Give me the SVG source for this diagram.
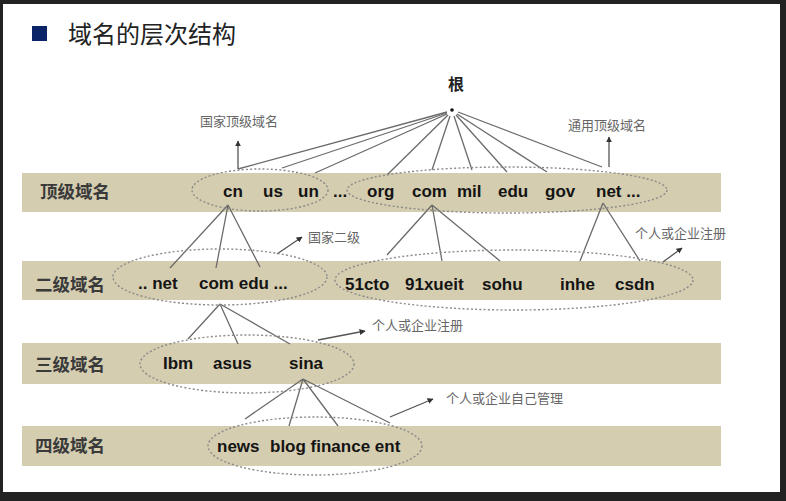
<svg xmlns="http://www.w3.org/2000/svg" width="786" height="501" viewBox="0 0 786 501">
<defs>
<style>
.band{fill:#d4cdb0}
.lvl{font-family:"Liberation Sans","Noto Sans CJK SC",sans-serif;font-size:17.5px;font-weight:bold;fill:#3a3a3a}
.dom{font-family:"Liberation Sans",Arial,sans-serif;font-size:17px;font-weight:bold;fill:#141414}
.note{font-family:"Noto Sans CJK SC",sans-serif;font-size:13px;fill:#666}
.ell{fill:none;stroke:#8a8a8a;stroke-width:1.4;stroke-dasharray:2 2.2}
.ln{stroke:#6a6a6a;stroke-width:1.3;fill:none}
.arr{stroke:#555;stroke-width:1.3;fill:none;marker-end:url(#ah)}
</style>
<marker id="ah" viewBox="0 0 10 10" refX="9" refY="5" markerWidth="6" markerHeight="6" orient="auto" markerUnits="userSpaceOnUse">
<path d="M0,0 L10,5 L0,10 z" fill="#333"/>
</marker>
</defs>
<rect x="0" y="0" width="786" height="501" fill="#222"/>
<rect x="3" y="4" width="777" height="488" fill="#fff"/>
<g id="title">
<rect x="32" y="26" width="15" height="15" fill="#0b2468"/>
<text x="68" y="43" font-family="Noto Sans CJK SC,sans-serif" font-size="24" fill="#222">域名的层次结构</text>
</g>
<g id="bands">
<rect class="band" x="22" y="173" width="699" height="39"/>
<rect class="band" x="22" y="261" width="699" height="39"/>
<rect class="band" x="22" y="343" width="699" height="41"/>
<rect class="band" x="22" y="426" width="699" height="40"/>
</g>
<g id="root">
<text x="456" y="90" text-anchor="middle" font-family="Noto Sans CJK SC,sans-serif" font-size="16" font-weight="bold" fill="#222">根</text>
<circle cx="452" cy="110" r="1.8" fill="#111"/>
</g>
<g id="connectors">
<path class="ln" d="M447,112 L238,169"/>
<path class="ln" d="M447,113 L282,168"/>
<path class="ln" d="M447,114 L315,173"/>
<path class="ln" d="M448,115 L387,175"/>
<path class="ln" d="M450,116 L432,170"/>
<path class="ln" d="M454,116 L472,170"/>
<path class="ln" d="M456,115 L507,172"/>
<path class="ln" d="M457,114 L547,172"/>
<path class="ln" d="M458,112 L602,167"/>
<path class="ln" d="M228,205 L170,268 M228,205 L216,268 M228,205 L260,267"/>
<path class="ln" d="M432,205 L387,255 M432,205 L442,261 M432,205 L500,261"/>
<path class="ln" d="M603,203 L580,261 M603,203 L640,261"/>
<path class="ln" d="M220,304 L188,339 M220,304 L238,344 M220,304 L290,344"/>
<path class="ln" d="M303,379 L245,419 M303,379 L289,426 M303,379 L338,426 M303,379 L390,423"/>
<path class="arr" d="M238,169 L238,141"/>
<path class="arr" d="M609,167 L609,137"/>
<path class="arr" d="M277,254 L302,237"/>
<path class="arr" d="M663,262 L682,248"/>
<path class="arr" d="M318,340 L365,331"/>
<path class="arr" d="M390,417 L433,399"/>
</g>
<g id="notes">
<text class="note" x="200" y="126">国家顶级域名</text>
<text class="note" x="568" y="130">通用顶级域名</text>
<text class="note" x="308" y="242">国家二级</text>
<text class="note" x="635" y="238">个人或企业注册</text>
<text class="note" x="372" y="330">个人或企业注册</text>
<text class="note" x="446" y="403">个人或企业自己管理</text>
</g>
<g id="level1">
<text class="lvl" x="40" y="198">顶级域名</text>
<ellipse class="ell" cx="260" cy="190" rx="68" ry="21"/>
<ellipse class="ell" cx="507" cy="190" rx="160" ry="23"/>
<text class="dom" x="223" y="197">cn</text>
<text class="dom" x="263" y="197">us</text>
<text class="dom" x="298" y="197">un</text>
<text class="dom" x="333" y="197">...</text>
<text class="dom" x="367" y="197">org</text>
<text class="dom" x="412" y="197">com</text>
<text class="dom" x="457" y="197">mil</text>
<text class="dom" x="498" y="197">edu</text>
<text class="dom" x="545" y="197">gov</text>
<text class="dom" x="596" y="197">net ...</text>
</g>
<g id="level2">
<text class="lvl" x="35" y="291">二级域名</text>
<ellipse class="ell" cx="220" cy="277" rx="107" ry="28"/>
<ellipse class="ell" cx="514" cy="280" rx="179" ry="30"/>
<text class="dom" x="138" y="289">.. net</text>
<text class="dom" x="199" y="289">com edu ...</text>
<text class="dom" x="345" y="290">51cto</text>
<text class="dom" x="405" y="290">91xueit</text>
<text class="dom" x="482" y="290">sohu</text>
<text class="dom" x="560" y="290">inhe</text>
<text class="dom" x="615" y="290">csdn</text>
</g>
<g id="level3">
<text class="lvl" x="35" y="371">三级域名</text>
<ellipse class="ell" cx="247" cy="364" rx="107" ry="29"/>
<text class="dom" x="163" y="369">Ibm</text>
<text class="dom" x="213" y="369">asus</text>
<text class="dom" x="289" y="369">sina</text>
</g>
<g id="level4">
<text class="lvl" x="35" y="452">四级域名</text>
<ellipse class="ell" cx="315" cy="446" rx="107" ry="29"/>
<text class="dom" x="217" y="452">news</text>
<text class="dom" x="270" y="452">blog finance ent</text>
</g>
</svg>
